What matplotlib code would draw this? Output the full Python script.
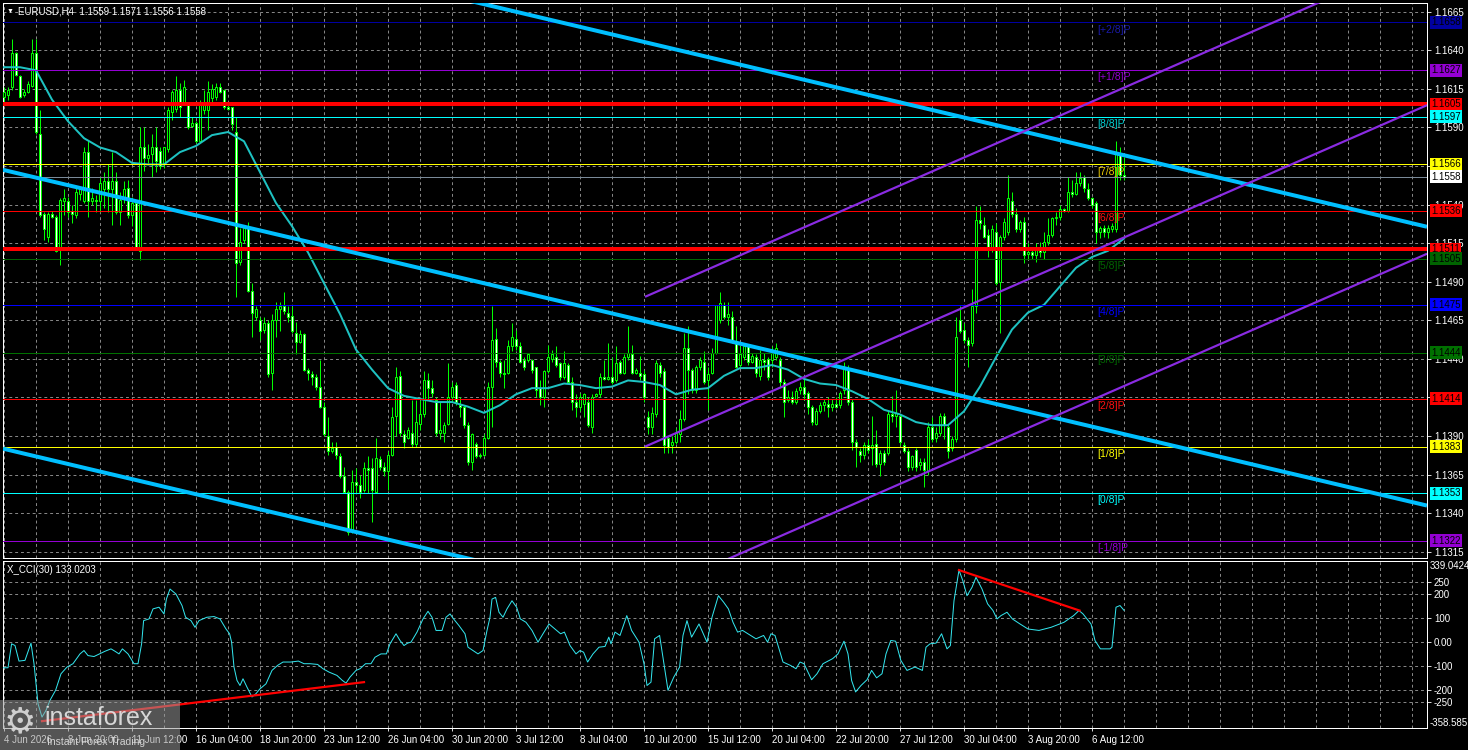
import numpy as np
import matplotlib.pyplot as plt
from matplotlib.patches import Rectangle
from matplotlib.transforms import blended_transform_factory

plt.rcParams['font.family'] = ['Liberation Sans', 'DejaVu Sans']

# EURUSD H4 candles, values in pips above 1.1300
BASE = 1.1300
opens = [310, 311, 316, 338, 323, 311, 313, 317, 338, 286,
         234, 219, 234, 232, 211, 242, 242, 236, 233, 247,
         242, 274, 242, 243, 242, 250, 255, 250, 255, 235,
         245, 251, 233, 241, 210, 277, 270, 273, 277, 275,
         266, 276, 300, 302, 314, 306, 305, 291, 293, 281,
         301, 301, 309, 310, 316, 314, 303, 303, 287, 203,
         217, 225, 184, 167, 165, 159, 163, 131, 165, 172,
         174, 170, 168, 157, 151, 156, 133, 130, 128, 122,
         109, 90, 80, 83, 77, 64, 54, 29, 60, 58,
         55, 69, 69, 54, 75, 70, 67, 78, 103, 129,
         91, 89, 92, 85, 98, 104, 126, 121, 113, 92,
         92, 98, 115, 123, 110, 109, 97, 73, 85, 77,
         78, 89, 122, 153, 138, 131, 131, 148, 153, 148,
         139, 139, 139, 135, 121, 115, 132, 140, 141, 137,
         128, 136, 125, 112, 109, 111, 112, 96, 116, 117,
         128, 127, 128, 126, 138, 131, 141, 143, 131, 131,
         130, 102, 96, 104, 136, 132, 89, 84, 86, 91,
         101, 147, 133, 120, 135, 138, 126, 131, 144, 165,
         175, 167, 167, 151, 136, 141, 148, 138, 141, 129,
         139, 140, 139, 141, 139, 125, 113, 115, 112, 120,
         122, 118, 109, 98, 106, 110, 111, 109, 111, 110,
         120, 134, 112, 86, 80, 78, 84, 82, 85, 72,
         79, 79, 104, 103, 103, 84, 80, 70, 81, 71,
         73, 67, 96, 89, 92, 103, 96, 82, 88, 165,
         159, 152, 150, 174, 230, 227, 220, 211, 222, 190,
         219, 222, 242, 234, 224, 229, 208, 209, 207, 211,
         209, 216, 220, 231, 232, 237, 236, 248, 247, 254,
         258, 250, 244, 241, 222, 225, 222, 224, 224, 273, 259]
highs = [316, 316, 347, 339, 324, 315, 320, 347, 347, 301,
         235, 235, 236, 233, 244, 250, 245, 240, 251, 251,
         277, 282, 251, 246, 258, 261, 266, 274, 261, 248,
         255, 256, 245, 243, 290, 290, 279, 286, 290, 277,
         277, 303, 314, 323, 319, 321, 306, 297, 294, 308,
         314, 320, 318, 319, 319, 315, 305, 303, 297, 225,
         227, 229, 189, 174, 167, 167, 165, 169, 177, 177,
         183, 174, 174, 164, 159, 157, 134, 132, 130, 139,
         112, 102, 86, 86, 79, 70, 55, 68, 69, 65,
         73, 77, 76, 89, 77, 73, 80, 109, 135, 132,
         94, 96, 113, 113, 113, 132, 131, 126, 115, 112,
         99, 137, 125, 125, 115, 110, 99, 92, 86, 79,
         91, 125, 174, 160, 139, 139, 152, 163, 159, 151,
         141, 144, 140, 135, 126, 133, 149, 146, 148, 138,
         145, 137, 128, 117, 118, 118, 115, 117, 118, 131,
         139, 150, 141, 148, 139, 143, 161, 149, 134, 142,
         133, 106, 109, 139, 138, 134, 90, 90, 95, 107,
         157, 161, 134, 136, 141, 145, 135, 147, 175, 183,
         177, 177, 171, 161, 148, 149, 149, 144, 143, 146,
         144, 141, 148, 150, 141, 127, 120, 119, 121, 125,
         127, 119, 110, 108, 112, 114, 115, 114, 115, 119,
         138, 136, 114, 88, 82, 86, 88, 103, 94, 81,
         81, 107, 116, 120, 104, 86, 82, 78, 82, 76,
         76, 99, 102, 96, 105, 105, 97, 90, 167, 174,
         163, 154, 185, 239, 239, 232, 224, 227, 228, 220,
         231, 259, 248, 238, 230, 232, 215, 212, 215, 216,
         222, 231, 232, 235, 240, 238, 258, 256, 261, 261,
         259, 254, 245, 242, 226, 227, 227, 228, 281, 277, 271]
lows = [306, 308, 314, 323, 309, 310, 312, 316, 286, 232,
        217, 216, 231, 209, 201, 233, 232, 228, 231, 243,
        241, 232, 240, 235, 235, 238, 235, 227, 234, 227,
        241, 231, 226, 211, 204, 262, 267, 258, 261, 263,
        264, 274, 295, 300, 297, 305, 289, 290, 280, 280,
        299, 288, 306, 308, 312, 302, 301, 288, 180, 201,
        215, 183, 154, 165, 152, 157, 128, 120, 154, 158,
        169, 164, 157, 143, 150, 132, 126, 123, 120, 108,
        90, 78, 79, 75, 63, 53, 26, 27, 53, 50,
        54, 53, 34, 53, 68, 64, 55, 77, 90, 90,
        82, 88, 83, 83, 94, 102, 113, 115, 90, 88,
        86, 97, 112, 110, 102, 95, 71, 68, 76, 76,
        77, 88, 96, 135, 128, 121, 130, 145, 146, 137,
        133, 138, 131, 115, 110, 109, 131, 138, 135, 126,
        127, 124, 107, 102, 106, 102, 96, 92, 115, 115,
        126, 126, 124, 125, 130, 130, 139, 130, 130, 126,
        112, 91, 91, 102, 128, 79, 79, 79, 85, 86,
        100, 117, 118, 118, 133, 124, 107, 130, 143, 163,
        166, 162, 150, 134, 135, 139, 136, 137, 128, 126,
        133, 126, 135, 139, 122, 102, 112, 111, 111, 117,
        113, 104, 97, 97, 105, 106, 102, 106, 108, 108,
        117, 110, 81, 70, 73, 75, 79, 71, 70, 64,
        71, 78, 99, 96, 84, 79, 67, 68, 67, 68,
        57, 65, 86, 86, 90, 88, 76, 80, 86, 157,
        150, 135, 148, 170, 224, 218, 206, 209, 188, 157,
        217, 220, 232, 222, 222, 202, 205, 205, 203, 206,
        205, 214, 219, 227, 230, 235, 235, 245, 246, 252,
        248, 243, 238, 215, 218, 219, 218, 222, 222, 256, 256]
closes = [313, 314, 338, 324, 310, 313, 318, 338, 287, 233,
          224, 234, 232, 210, 243, 244, 235, 234, 248, 250,
          274, 242, 244, 242, 254, 255, 250, 255, 235, 243,
          250, 233, 241, 212, 277, 270, 272, 277, 268, 265,
          277, 301, 313, 314, 303, 316, 290, 293, 281, 306,
          306, 313, 315, 316, 313, 303, 302, 292, 202, 216,
          225, 184, 170, 172, 158, 163, 130, 165, 172, 174,
          171, 167, 158, 151, 156, 133, 131, 128, 122, 109,
          91, 80, 82, 78, 64, 54, 28, 60, 58, 54,
          69, 68, 55, 76, 70, 67, 78, 102, 128, 92,
          86, 94, 85, 99, 104, 126, 121, 118, 92, 94,
          97, 115, 122, 112, 109, 97, 73, 91, 77, 78,
          89, 122, 152, 138, 131, 130, 148, 154, 148, 138,
          135, 143, 133, 120, 115, 132, 141, 143, 136, 128,
          137, 125, 112, 109, 115, 117, 97, 115, 117, 128,
          127, 128, 125, 137, 131, 141, 144, 131, 133, 129,
          115, 96, 105, 137, 131, 84, 83, 86, 92, 101,
          147, 133, 120, 135, 139, 125, 130, 144, 175, 176,
          167, 169, 151, 135, 143, 148, 138, 142, 131, 139,
          138, 128, 145, 147, 125, 112, 115, 112, 119, 122,
          117, 109, 99, 106, 110, 112, 109, 111, 109, 118,
          135, 112, 86, 83, 78, 84, 81, 84, 72, 79,
          73, 104, 103, 105, 86, 80, 70, 77, 70, 73,
          68, 96, 88, 92, 103, 97, 80, 88, 154, 158,
          152, 149, 174, 230, 228, 219, 211, 224, 189, 219,
          229, 244, 234, 224, 229, 207, 209, 207, 211, 209,
          216, 220, 231, 232, 237, 236, 248, 247, 254, 257,
          251, 244, 240, 222, 225, 222, 225, 226, 273, 259, 258]

# moving average, read every 4 bars (pips above 1.1300)
ma_step = 4
ma_vals = [329, 329, 327, 308, 294, 283, 277, 274, 267, 266, 266, 274, 278, 285,
           287, 281, 261, 241, 226, 209, 189, 169, 146, 133, 121, 116, 114, 112,
           112, 109, 105, 110, 117, 121, 121, 124, 123, 121, 122, 126, 125, 123,
           117, 120, 121, 129, 134, 134, 136, 133, 127, 124, 123, 119, 114, 107,
           104, 99, 97, 97, 106, 122, 141, 159, 170, 175, 187, 199, 206, 210, 218]

# CCI(30) readings: (bar position, value)
cci_points = [(-0.25, -107), (1, -107), (1.9, -7), (2.75, -14), (3.75, -79), (5.25, -76),
    (6.75, -4), (7.5, -90), (8.5, -257), (9.5, -313), (10.5, -285), (11.5, -243),
    (12.9, -201), (14.25, -132), (15.75, -104), (17.25, -90), (19, -49), (20, -35),
    (21, -56), (22.5, -60), (23.9, -49), (25.25, -38), (26.75, -28), (27.75, -38),
    (28.75, -49), (29.6, -28), (31, -49), (32.5, -90), (33.5, -90), (34.4, -7),
    (34.9, 90), (36.25, 97), (37.25, 139), (38.75, 146), (40, 118), (40.6, 180),
    (41.5, 222), (43, 201), (44.5, 153), (45.4, 104), (46.75, 90), (47.75, 62),
    (48.75, 90), (50.7, 104), (52.5, 107), (54, 97), (55.5, 55), (56.4, 35),
    (56.9, 0), (57.5, -104), (58.25, -160), (59, -181), (59.75, -153), (60.75, -188),
    (62, -229), (63, -215), (64, -195), (65.5, -174), (67, -118), (68.4, -97),
    (69.75, -83), (71.75, -83), (73.6, -79), (75, -90), (76.5, -90), (78.4, -93),
    (79.75, -111), (81.25, -125), (83.25, -139), (84.6, -160), (85.5, -171),
    (86.5, -146), (88, -118), (89, -111), (90.4, -90), (91.75, -90), (92.75, -63),
    (94.25, -49), (95.6, -49), (96.5, -7), (98, 35), (99, 7), (100, -14),
    (100.9, -4), (101.75, 0), (103.25, 42), (104.75, 97), (106, 129), (107, 104),
    (108, 49), (109.5, 49), (110.5, 104), (111.5, 118), (112.4, 97), (113.75, 69),
    (115.25, 35), (116, -21), (117.25, -35), (118.5, -49), (119.75, -35),
    (120.75, 49), (121.5, 104), (122, 180), (122.9, 187), (123.75, 125),
    (124.75, 104), (125.75, 139), (127, 173), (128.15, 146), (129.1, 97),
    (130.5, 83), (132, 49), (133.5, 0), (134.75, 35), (136.25, 76), (137.75, 55),
    (139.15, 35), (140.1, 42), (141.5, -14), (143, -49), (144, -35), (144.9, -42),
    (145.9, -83), (147.25, -49), (148.75, -21), (150.25, -18), (151.2, 21),
    (151.75, -7), (152.75, 42), (154, 28), (155.7, 111), (156.9, 49), (158.75, 0),
    (160, -90), (160.75, -181), (161.75, -167), (162.65, 14), (163.9, 28),
    (164.85, -76), (166, -201), (167.45, -146), (168.9, -104), (169.75, 28),
    (170.75, 90), (171.9, 21), (173.75, 76), (175.75, 0), (177, 104), (178.6, 194),
    (179.9, 167), (181.1, 139), (182.25, 83), (183.4, 42), (184.65, 49), (186, 35),
    (188, 14), (189.9, 28), (190.9, 0), (191.75, 35), (192.75, 28), (193.75, -28),
    (194.75, -83), (196.6, -97), (198, -111), (199, -83), (200, -90), (201.9, -157),
    (203.25, -132), (204.75, -90), (207.15, -69), (208.5, -49), (210, 4), (211, -49),
    (211.9, -160), (212.9, -208), (214.25, -181), (215.75, -157), (216.9, -118),
    (218.15, -149), (219.5, -132), (220.5, -49), (221.7, 7), (222.9, 4),
    (224.2, -76), (225.75, -118), (227.75, -104), (229.6, -118), (230.5, -21),
    (231.5, -7), (233, -4), (234.4, 35), (235.75, -28), (236.6, -14), (237.5, 173),
    (238.75, 301), (239.7, 257), (240.75, 194), (242, 229), (243, 271),
    (244.5, 222), (245.9, 160), (247.25, 132), (248.25, 97), (249.25, 111),
    (250.75, 125), (252.1, 97), (254, 76), (256, 55), (258.75, 49), (261.75, 62),
    (265, 83), (267.4, 111), (268.75, 132), (269.75, 118), (271.75, 76),
    (272.75, 7), (274.1, -28), (276.5, -28), (277, -21), (278, 146), (279, 153),
    (280, 133)]

# horizontal levels: price, line colour, line width (px), box colour, murrey label
level_prices = [1.1658, 1.1627, 1.1605, 1.1597, 1.1566, 1.1558, 1.1536, 1.1511,
                1.1505, 1.1475, 1.1444, 1.1414, 1.1383, 1.1353, 1.1322]
level_colors = ['#0000A0', '#9400D3', '#FF0000', '#00FFFF', '#FFFF00', '#7A8A99',
                '#FF0000', '#FF0000', '#006400', '#0000FF', '#007000', '#FF0000',
                '#FFFF00', '#00FFFF', '#9400D3']
level_widths = [1, 1, 4, 1, 1, 1, 1, 4, 1, 1, 1, 1, 1, 1, 1]
box_colors = ['#0000A0', '#9400D3', '#FF0000', '#00FFFF', '#FFFF00', '#FFFFFF',
              '#FF0000', '#FF0000', '#006400', '#0000FF', '#007000', '#FF0000',
              '#FFFF00', '#00FFFF', '#9400D3']
murrey_labels = ['[+2/8]P', '[+1/8]P', None, '[8/8]P', '[7/8]P', None, '[6/8]P', None,
                 '[5/8]P', '[4/8]P', '[3/8]P', '[2/8]P', '[1/8]P', '[0/8]P', '[-1/8]P']
murrey_colors = ['#1A1AA8', '#9400D3', None, '#00CED1', '#E8C800', None, '#FF1010', None,
                 '#006400', '#0000FF', '#006400', '#FF1010', '#FFFF00', '#00FFFF', '#9400D3']
murrey_x = 273.25

# price scale labels that sit under a level box in the chart
hidden_ticks = [1.1565, 1.1415]

# trend channels (bar position, price)
cyan_lines = [((100.0, 1.16821), (355.75, 1.15256)),
              ((-0.25, 1.15625), (355.75, 1.13449)),
              ((-0.25, 1.13818), (135.0, 1.12990))]
purple_lines = [((160.25, 1.14802), (355.75, 1.17015)),
                ((160.25, 1.13831), (355.75, 1.16044)),
                ((160.25, 1.12868), (355.75, 1.15081))]
cci_red_lines = [((9.5, -330), (90.0, -167)), ((238.75, 301), (268.9, 132))]

date_labels = ['4 Jun 2026', '8 Jun 20:00', '11 Jun 12:00', '16 Jun 04:00', '18 Jun 20:00',
               '23 Jun 12:00', '26 Jun 04:00', '30 Jun 20:00', '3 Jul 12:00', '8 Jul 04:00',
               '10 Jul 20:00', '15 Jul 12:00', '20 Jul 04:00', '22 Jul 20:00', '27 Jul 12:00',
               '30 Jul 04:00', '3 Aug 20:00', '6 Aug 12:00']

W, H = 1468, 750
PX = 72 / 100  # points per pixel
GRID = dict(color='#8a8a8a', linestyle=(0, (3, 3)), linewidth=0.7)

fig = plt.figure(figsize=(W / 100, H / 100), dpi=100, facecolor='black')
ax = fig.add_axes([3 / W, 1 - 558 / H, 1424 / W, 555 / H])
axc = fig.add_axes([3 / W, 1 - 728 / H, 1424 / W, 167 / H])

for a in (ax, axc):
    a.set_facecolor('black')
    for s in a.spines.values():
        s.set_color('white')
        s.set_linewidth(1 * PX)
    a.set_xlim(-0.25, 355.75)
    a.set_xticks(np.arange(0, 356, 8), minor=True)
    a.grid(True, which='both', axis='x', **GRID)
    a.grid(True, which='major', axis='y', **GRID)
    a.yaxis.tick_right()
    a.tick_params(colors='white', labelsize=7, length=3, width=0.6, pad=2)

# ---- main price panel ----
ax.set_ylim(1.131092, 1.167063)
yt = np.round(np.arange(1.1315, 1.16651, 0.0025), 4)
ax.set_yticks(yt)
ax.set_yticklabels(['' if any(abs(v - t) < 1e-6 for t in hidden_ticks) else f'{v:.4f}'
                    for v in yt])
ax.set_xticks(np.arange(0, 356, 16))
ax.tick_params(axis='x', which='both', length=0, labelbottom=False)

o = BASE + np.array(opens) / 1e4
h = BASE + np.array(highs) / 1e4
l = BASE + np.array(lows) / 1e4
c = BASE + np.array(closes) / 1e4
idx = np.arange(len(o))
ax.vlines(idx, l, h, color='#00FF00', linewidth=1 * PX, zorder=4)
fills = ['black' if cc >= oo else 'white' for oo, cc in zip(o, c)]
ax.bar(idx, c - o, bottom=o, width=0.5, color=fills, edgecolor='#00FF00',
       linewidth=1 * PX, zorder=5)

ma_x = np.arange(len(ma_vals)) * ma_step
ax.plot(ma_x, BASE + np.array(ma_vals) / 1e4, color='#1EC2C2', linewidth=2 * PX, zorder=6)

for p, col, w in zip(level_prices, level_colors, level_widths):
    ax.axhline(p, color=col, linewidth=w * PX, zorder=6)

for (x0, y0), (x1, y1) in cyan_lines:
    ax.plot([x0, x1], [y0, y1], color='#00BFFF', linewidth=4 * PX, zorder=7,
            solid_capstyle='butt')
for (x0, y0), (x1, y1) in purple_lines:
    ax.plot([x0, x1], [y0, y1], color='#8A2BE2', linewidth=2.2 * PX, zorder=7,
            solid_capstyle='butt')

for p, lab, col in zip(level_prices, murrey_labels, murrey_colors):
    if lab:
        ax.annotate(lab, xy=(murrey_x, p), xytext=(0, -1.5), textcoords='offset points',
                    color=col, fontsize=7.5, va='top', ha='left', zorder=8)

tr = blended_transform_factory(ax.transAxes, ax.transData)
for p, bc in zip(level_prices, box_colors):
    ax.text(1.0028, p, f'{p:.4f}', transform=tr, va='center', ha='left', fontsize=7,
            color='black', clip_on=False, zorder=10,
            bbox=dict(boxstyle='square,pad=0.15', fc=bc, ec='none'))

fig.text(7 / W, 1 - 11 / H, '\u25bc', color='white', fontsize=5, va='center', ha='left')
fig.text(18 / W, 1 - 11 / H, 'EURUSD,H4  1.1559 1.1571 1.1556 1.1558', color='white',
         fontsize=7, va='center', ha='left')

# ---- CCI panel ----
axc.set_ylim(-358.585, 339.0424)
ct = [250, 200, 100, 0, -100, -200, -250]
axc.set_yticks(ct)
axc.set_yticklabels(['250', '200', '100', '0.00', '-100', '-200', '-250'])
axc.set_xticks(np.arange(0, 16 * len(date_labels), 16))
axc.set_xticklabels(date_labels)
for lab in axc.get_xticklabels():
    lab.set_horizontalalignment('left')
axc.tick_params(axis='x', which='both', length=2, pad=3)

cx, cv = zip(*cci_points)
axc.plot(cx, cv, color='#33E6EE', linewidth=1 * PX, zorder=5)
for (x0, y0), (x1, y1) in cci_red_lines:
    axc.plot([x0, x1], [y0, y1], color='#FF0000', linewidth=2.2 * PX, zorder=6)

trc = blended_transform_factory(axc.transAxes, axc.transData)
axc.text(1.0021, 339.0424, '339.0424', transform=trc, va='top', ha='left', fontsize=7,
         color='white', clip_on=False)
axc.text(1.0021, -358.585, '-358.585', transform=trc, va='bottom', ha='left', fontsize=7,
         color='white', clip_on=False)
axc.text(0.003, 0.945, 'X_CCI(30) 133.0203', transform=axc.transAxes, va='center',
         ha='left', fontsize=7, color='white')

# ---- watermark ----
fig.add_artist(Rectangle((0, 0), 180 / W, 50 / H, transform=fig.transFigure,
                         fc='#9a9a9a', ec='none', alpha=0.55, zorder=20))
fig.text(4 / W, 1 - 722 / H, '\u2699', color='#dcdcdc', fontsize=26, va='center',
         ha='left', family='DejaVu Sans', zorder=21, alpha=0.9)
fig.text(44 / W, 1 - 718 / H, 'instaforex', color='#e6e6e6', fontsize=18, va='center',
         ha='left', zorder=21, alpha=0.9)
fig.text(47 / W, 1 - 742 / H, 'Instant Forex Trading', color='#e0e0e0', fontsize=7.5,
         va='center', ha='left', zorder=21, alpha=0.9)

fig.savefig('out.png', dpi=100, facecolor='black')
